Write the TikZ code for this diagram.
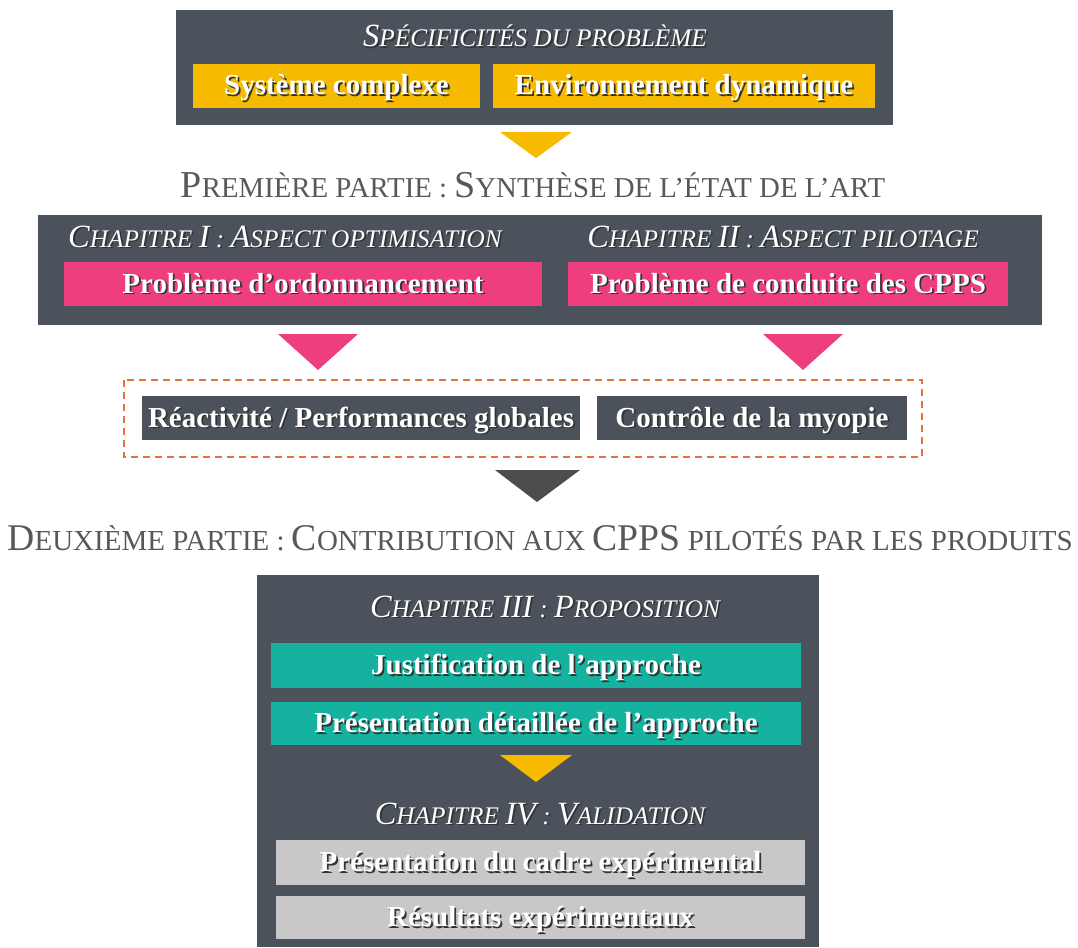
\documentclass[tikz,border=0pt]{standalone}
\usepackage{fontspec}
\setmainfont{Liberation Serif}
\usetikzlibrary{calc}
\definecolor{boxdark}{RGB}{75,82,92}
\definecolor{ybox}{RGB}{246,186,0}
\definecolor{pbox}{RGB}{239,62,126}
\definecolor{tbox}{RGB}{22,178,160}
\definecolor{gbox}{RGB}{200,200,200}
\definecolor{dashor}{RGB}{232,112,58}
\definecolor{tridark}{RGB}{77,77,77}
\definecolor{headgray}{RGB}{88,88,88}
\newcommand\shd[1]{{\leavevmode\rlap{\color{black!80}\hspace{1.8pt}\raisebox{-1.8pt}{#1}}#1}}
\newcommand\BL[1]{{\fontsize{\BLsize}{\BLsize}\selectfont #1}}
\def\BLsize{32.4pt}
\tikzset{
  panel/.style={fill=boxdark, draw=none},
  btxt/.style={minimum height=44, inner sep=0, text height=19.5pt, text depth=1.5pt, text=white, font=\bfseries\fontsize{29pt}{29pt}\selectfont},
  yb/.style={btxt, fill=ybox},
  pb/.style={btxt, fill=pbox},
  db/.style={btxt, fill=boxdark},
  tb/.style={btxt, fill=tbox},
  gb/.style={btxt, fill=gbox},
  chead/.style={inner sep=0, text height=20pt, text depth=2pt, text=white, font=\itshape\fontsize{25.3pt}{25.3pt}\selectfont},
  phead/.style={inner sep=0, text height=22pt, text depth=2pt, text=headgray}
}
\begin{document}
\begin{tikzpicture}[x=1pt,y=-1pt]
\useasboundingbox (0,0) rectangle (1078,947);
% top panel
\fill[panel] (176,10) rectangle (893,125);
\node[chead] (spec) at (535,38) {\shd{\BL{S}PÉCIFICITÉS DU PROBLÈME}};
\node[yb, minimum width=287] (sys) at (336.5,86) {\shd{Système complexe}};
\node[yb, minimum width=382] (env) at (684,86) {\shd{Environnement dynamique}};
\fill[ybox] (500,132) -- (572,132) -- (536,158) -- cycle;
% part 1
\node[phead, font=\fontsize{28.8pt}{28.8pt}\selectfont] (p1) at (533,187) {\def\BLsize{38pt}\BL{P}REMIÈRE PARTIE :\ \BL{S}YNTHÈSE DE L’ÉTAT DE L’ART};
\fill[panel] (38,215) rectangle (1042,325);
\node[chead] (c1) at (285,238) {\shd{\BL{C}HAPITRE \BL{I} : \BL{A}SPECT OPTIMISATION}};
\node[chead] (c2) at (783,238) {\shd{\BL{C}HAPITRE \BL{II} : \BL{A}SPECT PILOTAGE}};
\node[pb, minimum width=478] (ord) at (303,284) {\shd{Problème d’ordonnancement}};
\node[pb, minimum width=440] (cond) at (788,284) {\shd{Problème de conduite des CPPS}};
\fill[pbox] (278,334) -- (358,334) -- (318,370) -- cycle;
\fill[pbox] (763,334) -- (843,334) -- (803,370) -- cycle;
% dashed group
\draw[dashor, line width=1.8pt, dash pattern=on 7pt off 5pt] (124,380) rectangle (922,457);
\node[db, minimum width=438] (rea) at (361,418) {\shd{Réactivité / Performances globales}};
\node[db, minimum width=310] (myo) at (752,418) {\shd{Contrôle de la myopie}};
\fill[tridark] (495,470) -- (580,470) -- (537,502) -- cycle;
% part 2
\node[phead, font=\fontsize{29pt}{29pt}\selectfont] (p2) at (540,540) {\def\BLsize{37.7pt}\BL{D}EUXIÈME PARTIE : \BL{C}ONTRIBUTION AUX \BL{CPPS} PILOTÉS PAR LES PRODUITS};
\fill[panel] (257,575) rectangle (819,947);
\node[chead] (c3) at (545,608) {\shd{\BL{C}HAPITRE \BL{III} : \BL{P}ROPOSITION}};
\node[tb, minimum width=530, minimum height=45] (just) at (536,665.5) {\shd{Justification de l’approche}};
\node[tb, minimum width=530, minimum height=43] (pres) at (536,723.5) {\shd{Présentation détaillée de l’approche}};
\fill[ybox] (500,755) -- (572,755) -- (536,782) -- cycle;
\node[chead] (c4) at (540,815) {\shd{\BL{C}HAPITRE \BL{IV} : \BL{V}ALIDATION}};
\node[gb, minimum width=529, minimum height=45] (cadre) at (540.5,862.5) {\shd{Présentation du cadre expérimental}};
\node[gb, minimum width=529, minimum height=43] (res) at (540.5,917.5) {\shd{Résultats expérimentaux}};
\end{tikzpicture}
\end{document}
